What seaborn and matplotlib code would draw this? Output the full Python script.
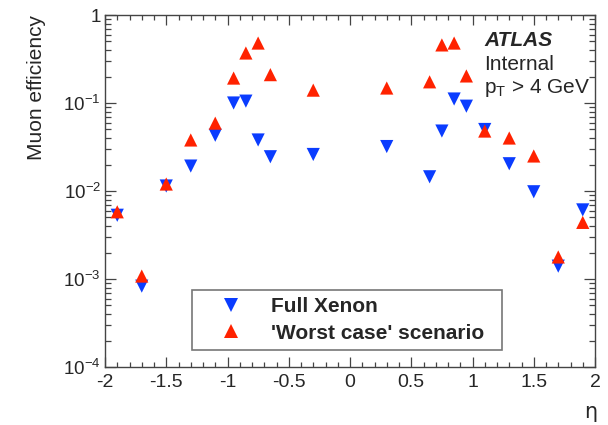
import numpy as np
import pandas as pd
import seaborn as sns
import matplotlib
matplotlib.use("Agg")
import matplotlib.pyplot as plt
from matplotlib.lines import Line2D
from matplotlib.ticker import FixedLocator, LogLocator, NullFormatter

# Pseudorapidity bins
eta = [-1.9, -1.7, -1.5, -1.3, -1.1, -0.95, -0.85, -0.75, -0.65, -0.3,
       0.3, 0.65, 0.75, 0.85, 0.95, 1.1, 1.3, 1.5, 1.7, 1.9]

# Muon efficiency per bin
full_xenon = [0.0053, 0.00083, 0.0114, 0.0192, 0.043, 0.100, 0.105, 0.038, 0.0245, 0.026,
              0.032, 0.0145, 0.048, 0.111, 0.092, 0.050, 0.0204, 0.0098, 0.0014, 0.0061]
worst_case = [0.0058, 0.00108, 0.0120, 0.038, 0.059, 0.192, 0.37, 0.48, 0.21, 0.14,
              0.148, 0.174, 0.457, 0.48, 0.203, 0.048, 0.040, 0.025, 0.00178, 0.0044]

series_names = ["Full Xenon", "'Worst case' scenario"]
colors = {"Full Xenon": "#0a3cff", "'Worst case' scenario": "#ff2200"}
markers = {"Full Xenon": "v", "'Worst case' scenario": "^"}

x_ticks = [-2, -1.5, -1, -0.5, 0, 0.5, 1, 1.5, 2]
x_tick_labels = ["-2", "-1.5", "-1", "-0.5", "0", "0.5", "1", "1.5", "2"]
y_ticks = [1e-4, 1e-3, 1e-2, 1e-1, 1]
y_tick_labels = [r"$10^{-4}$", r"$10^{-3}$", r"$10^{-2}$", r"$10^{-1}$", "1"]

df = pd.DataFrame({
    "eta": eta * 2,
    "eff": full_xenon + worst_case,
    "series": [series_names[0]] * len(eta) + [series_names[1]] * len(eta),
})

sns.set_theme(style="ticks")
plt.rcParams["font.family"] = ["Liberation Sans", "DejaVu Sans"]
plt.rcParams["mathtext.fontset"] = "custom"
plt.rcParams["mathtext.rm"] = "Liberation Sans"
plt.rcParams["mathtext.it"] = "Liberation Sans:italic"
plt.rcParams["mathtext.bf"] = "Liberation Sans:bold"

W, H = 608, 425
fig = plt.figure(figsize=(W / 100, H / 100), dpi=100)
fig.patch.set_facecolor("white")
ax = fig.add_axes([105 / W, 1 - 367 / H, (595 - 105) / W, (367 - 15) / H])
ax.set_facecolor("white")

sns.scatterplot(data=df, x="eta", y="eff", hue="series", style="series",
                hue_order=series_names, style_order=series_names,
                palette=colors, markers=markers, s=90, linewidth=0,
                edgecolor="none", legend=False, ax=ax, zorder=3)

ax.set_yscale("log")
ax.set_xlim(-2, 2)
ax.set_ylim(1e-4, 1)
ax.set_xlabel("")
ax.set_ylabel("")

ax.xaxis.set_major_locator(FixedLocator(x_ticks))
ax.set_xticklabels(x_tick_labels)
ax.xaxis.set_minor_locator(FixedLocator(np.round(np.arange(-2, 2.01, 0.1), 2)))
ax.yaxis.set_major_locator(FixedLocator(y_ticks))
ax.set_yticklabels(y_tick_labels)
ax.yaxis.set_minor_locator(LogLocator(base=10, subs=np.arange(2, 10)))
ax.yaxis.set_minor_formatter(NullFormatter())

frame_color = "#444444"
for sp in ax.spines.values():
    sp.set_color(frame_color)
    sp.set_linewidth(1.0)
    sp.set_visible(True)

ax.tick_params(axis="both", which="both", direction="in", top=True, right=True,
               color=frame_color, width=0.9)
ax.tick_params(axis="x", which="major", length=7, pad=5, labelsize=14)
ax.tick_params(axis="x", which="minor", length=3.5)
ax.tick_params(axis="y", which="major", length=8, pad=3, labelsize=13.5)
ax.tick_params(axis="y", which="minor", length=4)

# Axis titles
fig.text(37 / W, 1 - 15 / H, "Muon efficiency", rotation=90, ha="center", va="top",
         fontsize=15)
fig.text(591 / W, 1 - 412 / H, "η", ha="center", va="center", fontsize=15,
         family="DejaVu Sans")

# Labels in the upper right corner
fig.text(484 / W, 1 - 46 / H, "ATLAS", fontsize=15, fontweight="bold", style="italic",
         ha="left", va="baseline")
fig.text(484 / W, 1 - 70 / H, "Internal", fontsize=15, ha="left", va="baseline")
fig.text(484 / W, 1 - 93 / H, r"p$_{\mathrm{T}}$ > 4 GeV", fontsize=15, ha="left",
         va="baseline")

# Legend
handles = [Line2D([], [], linestyle="none", marker=markers[n], color=colors[n],
                  markersize=9.5, markeredgewidth=0) for n in series_names]
leg = ax.legend(handles, series_names, loc="lower left",
                bbox_to_anchor=(192 / W, 1 - 350 / H, (502 - 192) / W, (350 - 282) / H),
                bbox_transform=fig.transFigure, mode="expand", fancybox=False,
                frameon=True, edgecolor="#555555", borderpad=0.35, labelspacing=0.35,
                handlelength=3.0, handletextpad=0.45, borderaxespad=0,
                prop={"weight": "bold", "size": 15})
leg.get_frame().set_linewidth(1.2)

fig.savefig("out.png", dpi=100, facecolor="white")
